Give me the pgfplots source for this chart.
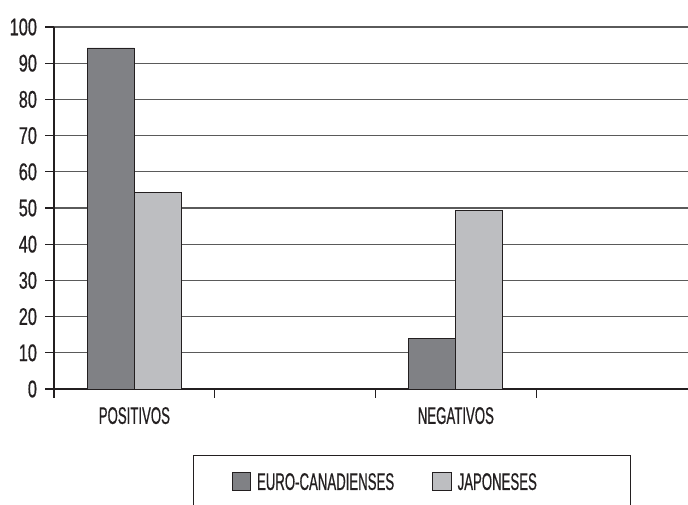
\documentclass[border=0pt]{standalone}
\usepackage{fontspec}
\setmainfont{Liberation Sans}[FakeStretch=0.55, FakeBold=0.6]
\newfontfamily\numfont{Liberation Sans}[FakeStretch=0.68, FakeBold=0.6]
\usepackage{pgfplots}
\pgfplotsset{compat=1.18}
\definecolor{barDark}{HTML}{808185}
\definecolor{barLight}{HTML}{BDBEC1}
\definecolor{ink}{HTML}{231F20}
\definecolor{gridc}{HTML}{5A5A5A}

\pgfplotsset{
  sqlegend/.style={legend image code/.code={%
      \draw[##1, draw=ink, line width=0.6pt] (0pt,-7pt) rectangle (14pt,7pt);}},
}

\begin{document}
\begin{tikzpicture}
\path[use as bounding box, clip] (0,0) rectangle (516pt,378pt);
\begin{axis}[
  at={(40.5pt,86.25pt)}, anchor=south west,
  scale only axis, width=482.25pt, height=271.5pt,
  xmin=-0.5, xmax=3.5, ymin=0, ymax=100,
  ybar=0pt, bar width=35.25pt,
  axis x line=bottom, axis y line=left,
  axis line style={-, draw=ink, line width=1.1pt},
  ymajorgrids, grid style={draw=gridc, line width=0.8pt},
  ytick={0,10,...,100},
  xtick={-0.5,0.5,1.5,2.5,3.5}, xticklabels={},
  extra x ticks={0,2}, extra x tick labels={POSITIVOS,NEGATIVOS},
  extra x tick style={tick style={draw=none}, grid=none},
  tick align=outside, major tick length=6.4pt,
  tick style={draw=ink, line width=0.9pt},
  /pgf/number format/assume math mode=true,
  yticklabel style={font=\numfont\fontsize{18}{21}\selectfont, text=ink,
    anchor=east, inner sep=0pt, xshift=-6.2pt},
  xticklabel style={font=\fontsize{18}{21}\selectfont, text=ink,
    anchor=north, inner sep=0pt, yshift=-7pt},
  every axis plot post/.append style={sqlegend},
  legend columns=2,
  legend style={at={(0.2162,-0.1823)}, anchor=north west,
    draw=ink, line width=0.8pt, inner xsep=28.5pt, inner ysep=12pt,
    font=\fontsize{18}{21}\selectfont, text=ink,
    nodes={inner sep=0pt, text height=13pt, text depth=0pt},
    /tikz/every even column/.append style={column sep=28.5pt},
    /tikz/every odd column/.append style={column sep=4.5pt}},
]
\addplot[fill=barDark, draw=ink, line width=0.6pt] coordinates {(0,94.2) (2,13.9)};
\addplot[fill=barLight, draw=ink, line width=0.6pt] coordinates {(0,54.3) (2,49.4)};
\legend{EURO-CANADIENSES, JAPONESES\hspace*{42pt}}
\end{axis}
\end{tikzpicture}
\end{document}
